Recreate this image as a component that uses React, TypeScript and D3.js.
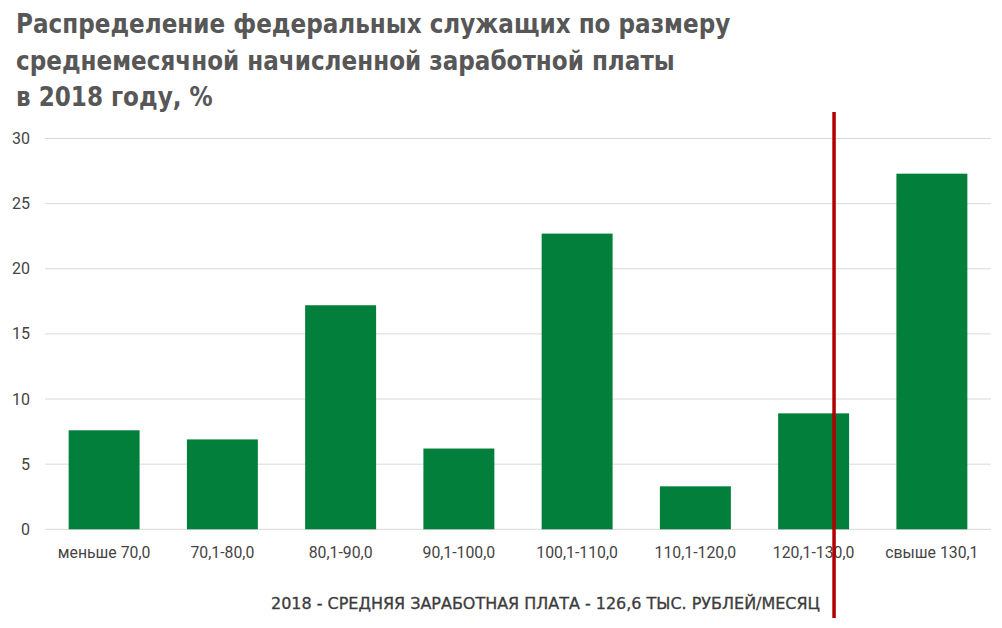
import React from "react";
import * as d3 from "d3";

const categories = ["меньше 70,0", "70,1-80,0", "80,1-90,0", "90,1-100,0", "100,1-110,0", "110,1-120,0", "120,1-130,0", "свыше 130,1"];
const values = [7.6, 6.9, 17.2, 6.2, 22.7, 3.3, 8.9, 27.3];
const yTicks = [0, 5, 10, 15, 20, 25, 30];
const titleLines = ["Распределение федеральных служащих по размеру", "среднемесячной начисленной заработной платы", "в 2018 году, %"];
const caption = "2018 - СРЕДНЯЯ ЗАРАБОТНАЯ ПЛАТА - 126,6 ТЫС. РУБЛЕЙ/МЕСЯЦ";
const avgSalary = 126.6;
const avgBandIndex = 6;
const avgBandRange = [120, 130];

export default function App() {
  const W = 1002, H = 628;
  const left = 45, right = 991, top = 138.5, bottom = 529.3;
  const x = d3.scaleBand<string>().domain(categories).range([left, right]).paddingInner(0.4).paddingOuter(0.2);
  const y = d3.scaleLinear().domain([0, 30]).range([bottom, top]);
  const step = x.step();
  const bandStart = left + avgBandIndex * step;
  const xAvg = d3.scaleLinear().domain(avgBandRange).range([bandStart, bandStart + step])(avgSalary) + 1.5;
  const condensed = "'DejaVu Sans Condensed', 'Liberation Sans Narrow', sans-serif";
  return (
    <svg width={W} height={H} style={{ position: "absolute", left: 0, top: 0, background: "#fff" }}>
      {titleLines.map((t, i) => (
        <text key={i} x={16} y={33 + i * 36.5} fontFamily={condensed} fontWeight="bold" fontSize={25.7} fill="#575757">{t}</text>
      ))}
      {yTicks.map((t) => (
        <g key={t}>
          <line x1={left} x2={right} y1={y(t)} y2={y(t)} stroke="#d9d9d9" strokeWidth={1} />
          <text x={30} y={y(t) + 5.5} textAnchor="end" fontFamily="Roboto, sans-serif" fontSize={16} fill="#444">{t}</text>
        </g>
      ))}
      {categories.map((c, i) => (
        <g key={c}>
          <rect x={x(c)} y={y(values[i])} width={x.bandwidth()} height={y(0) - y(values[i])} fill="#027f3a" />
          <text x={(x(c) as number) + x.bandwidth() / 2} y={557.5} textAnchor="middle" fontFamily="Roboto, sans-serif" fontSize={15.8} fill="#444">{c}</text>
        </g>
      ))}
      <line x1={xAvg} x2={xAvg} y1={112} y2={618} stroke="#b40000" strokeWidth={3.5} />
      <text x={545.5} y={609} textAnchor="middle" fontFamily={condensed} fontWeight="normal" fontSize={16.5} fill="#3c3c3c" stroke="#3c3c3c" strokeWidth={0.3} textLength={549} lengthAdjust="spacingAndGlyphs">{caption}</text>
    </svg>
  );
}
